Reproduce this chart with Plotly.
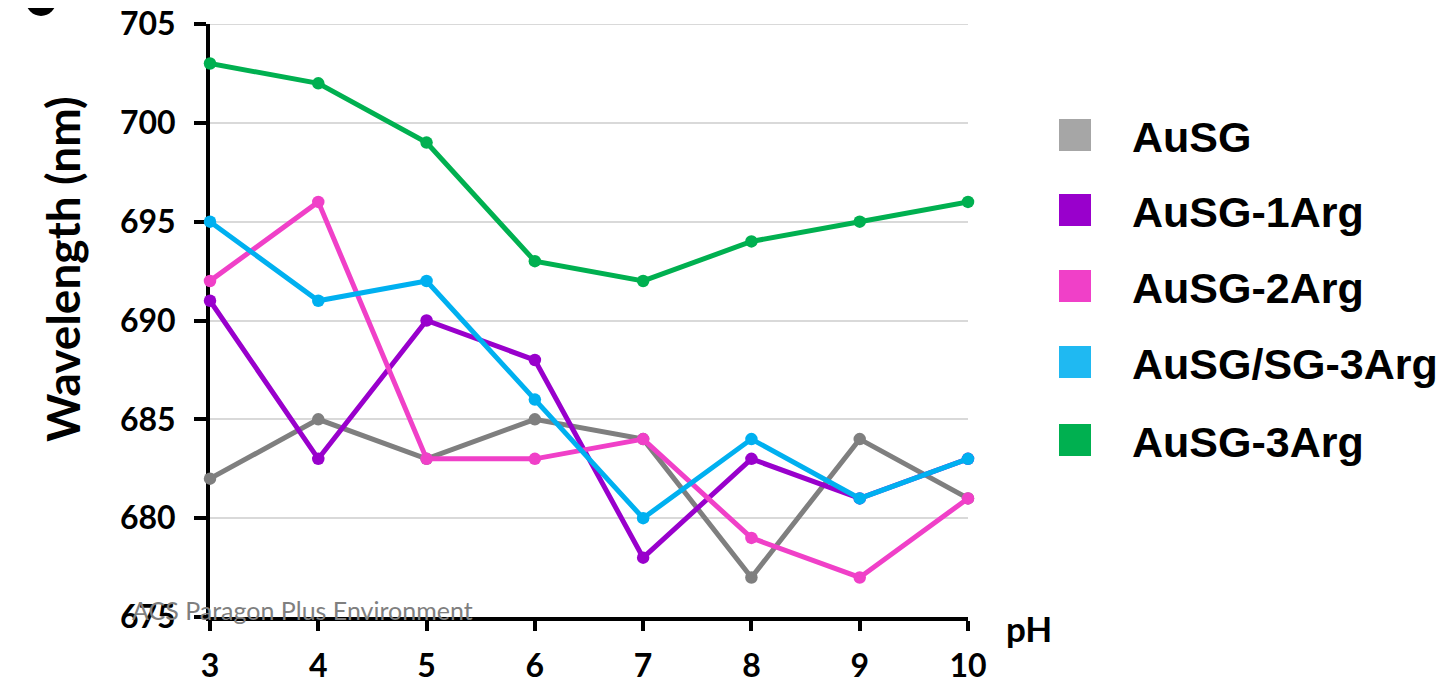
import plotly.graph_objects as go

ph = [3, 4, 5, 6, 7, 8, 9, 10]
series_names = ["AuSG", "AuSG-1Arg", "AuSG-2Arg", "AuSG/SG-3Arg", "AuSG-3Arg"]
ausg = [682, 685, 683, 685, 684, 677, 684, 681]
ausg_1arg = [691, 683, 690, 688, 678, 683, 681, 683]
ausg_2arg = [692, 696, 683, 683, 684, 679, 677, 681]
ausg_sg_3arg = [695, 691, 692, 686, 680, 684, 681, 683]
ausg_3arg = [703, 702, 699, 693, 692, 694, 695, 696]
y_ticks = [675, 680, 685, 690, 695, 700, 705]

series_values = [ausg, ausg_1arg, ausg_2arg, ausg_sg_3arg, ausg_3arg]
line_colors = ["#7f7f7f", "#9900cc", "#f040c8", "#00b0f0", "#00b050"]
legend_colors = ["#a6a6a6", "#9900cc", "#f040c8", "#1fb9f2", "#00b050"]

W, H = 1454, 684
OFF = 8  # page body offset
# target plot area in screenshot pixels
SL, SR, ST, SB = 210, 968, 24, 617
L, R, T, B = SL - OFF, SR - OFF, ST - OFF, SB - OFF

def px_x(p):
    return (p - SL) / (SR - SL)

def px_y(p):
    return (SB - p) / (SB - ST)

fig = go.Figure()
for name, vals, col in zip(series_names, series_values, line_colors):
    fig.add_trace(go.Scatter(
        x=ph, y=vals, mode="lines+markers", name=name,
        line=dict(color=col, width=5),
        marker=dict(color=col, size=12.5),
        showlegend=False, cliponaxis=False,
    ))

shapes = []
annotations = []
# top gridline (Plotly omits the gridline at the range edge)
shapes.append(dict(type="line", xref="paper", yref="y", x0=0, x1=1,
                   y0=y_ticks[-1], y1=y_ticks[-1], layer="below",
                   line=dict(color="#d9d9d9", width=2)))
# manual legend
row_y = [135, 210, 286, 362, 440]
for name, col, ry in zip(series_names, legend_colors, row_y):
    shapes.append(dict(type="rect", xref="paper", yref="paper",
                       x0=px_x(1059), x1=px_x(1091), y0=px_y(ry + 16), y1=px_y(ry - 16),
                       fillcolor=col, line=dict(width=0)))
    annotations.append(dict(text=name, xref="paper", yref="paper",
                            x=px_x(1130), y=px_y(ry + 2), xanchor="left", yanchor="middle",
                            showarrow=False,
                            font=dict(family="Liberation Sans, Arial", size=43, color="black", weight="bold")))

# partial panel label blob at top-left
shapes.append(dict(type="circle", xref="paper", yref="paper",
                   x0=px_x(26), x1=px_x(56), y0=px_y(16), y1=px_y(-14),
                   fillcolor="black", line=dict(width=0)))

annotations.append(dict(text="Wavelength (nm)", xref="paper", yref="paper",
                        x=px_x(62), y=px_y(269), xanchor="center", yanchor="middle",
                        textangle=-90, showarrow=False,
                        font=dict(family="Lato", size=46, color="black", weight="bold")))
annotations.append(dict(text="pH", xref="paper", yref="paper",
                        x=px_x(1029), y=px_y(628), xanchor="center", yanchor="middle",
                        showarrow=False,
                        font=dict(family="Lato", size=35, color="black", weight="bold")))
annotations.append(dict(text="ACS Paragon Plus Environment", xref="paper", yref="paper",
                        x=px_x(130), y=px_y(610), xanchor="left", yanchor="middle",
                        showarrow=False,
                        font=dict(family="Lato", size=25, color="#7f7f7f")))

tickfont = dict(family="Lato", size=32, color="black", weight="bold")

fig.update_layout(
    width=W, height=H,
    margin=dict(l=L, r=W - R, t=T, b=H - B, pad=0),
    paper_bgcolor="white", plot_bgcolor="white",
    showlegend=False,
    shapes=shapes, annotations=annotations,
    xaxis=dict(range=[3, 10], tickvals=ph, ticktext=[str(v) for v in ph],
               showgrid=False, zeroline=False, automargin=False,
               ticklabeloverflow="allow", ticklabelstandoff=8,
               showline=True, linecolor="black", linewidth=4,
               ticks="outside", ticklen=10, tickwidth=4, tickcolor="black",
               tickfont=tickfont, layer="below traces"),
    yaxis=dict(range=[675, 705], tickvals=y_ticks, ticktext=[str(v) for v in y_ticks],
               showgrid=True, gridcolor="#d9d9d9", gridwidth=2, zeroline=False,
               automargin=False, ticklabeloverflow="allow", ticklabelstandoff=12,
               showline=True, linecolor="black", linewidth=4,
               ticks="outside", ticklen=12, tickwidth=4, tickcolor="black",
               tickfont=tickfont, layer="below traces"),
)

fig.write_html("out.html")
